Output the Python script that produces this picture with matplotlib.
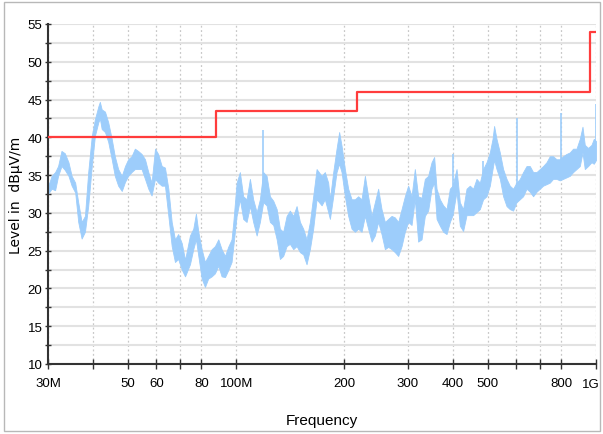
import matplotlib
matplotlib.use("Agg")
import matplotlib.pyplot as plt
from matplotlib.ticker import FixedLocator, NullLocator, MultipleLocator
from matplotlib.patches import Rectangle

freq_mhz = [30.0, 30.7, 31.4, 32.0, 32.7, 33.4, 34.2, 34.9, 35.7, 36.4, 37.2, 38.0,
            38.8, 39.7, 40.5, 41.4, 41.8, 42.3, 43.2, 44.1, 45.1, 46.0, 47.0, 48.1,
            49.1, 50.1, 51.2, 52.3, 53.4, 54.6, 55.8, 57.0, 58.2, 59.5, 60.7, 62.1,
            63.4, 64.8, 66.2, 67.6, 69.0, 70.6, 72.1, 74.4, 76.0, 77.3, 78.5, 80.2,
            81.9, 83.6, 85.5, 87.3, 89.2, 91.1, 93.1, 95.0, 97.1, 98.2, 100.3, 102.4,
            104.6, 106.9, 109.2, 111.5, 114.0, 116.4, 118.9, 121.5, 124.1, 126.8, 129.6,
            132.3, 135.1, 138.1, 141.0, 144.1, 147.2, 150.4, 153.6, 156.9, 160.3, 163.7,
            167.3, 172.8, 176.4, 180.2, 182.2, 186.1, 190.1, 193.3, 196.3, 200.5, 204.8,
            209.3, 213.8, 218.3, 223.1, 227.9, 232.7, 237.9, 242.9, 248.1, 253.5, 259.0,
            264.5, 270.3, 276.1, 282.0, 288.2, 294.3, 300.6, 307.2, 313.7, 320.4, 327.5,
            334.5, 341.6, 349.1, 355.0, 360.5, 368.2, 376.1, 384.3, 392.5, 399.3, 409.7,
            418.4, 427.3, 436.7, 446.0, 455.6, 465.5, 475.5, 485.6, 496.3, 506.9, 515.8,
            521.0, 529.1, 540.4, 551.9, 564.1, 576.0, 588.3, 601.2, 614.1, 627.2, 641.0,
            654.7, 668.7, 683.3, 697.9, 712.7, 728.5, 743.9, 759.8, 776.6, 793.1, 810.0,
            827.8, 845.5, 863.6, 882.6, 901.5, 917.2, 930.8, 950.5, 971.5, 986.0, 1000.0]
level_hi = [33.5, 34.9, 35.4, 36.2, 38.2, 37.9, 36.7, 34.9, 34.0, 31.4, 28.8, 29.6,
            35.4, 40.2, 42.4, 44.1, 44.7, 43.7, 43.4, 42.0, 39.8, 37.5, 35.8, 34.9,
            36.2, 37.1, 37.5, 38.5, 38.2, 37.8, 37.1, 35.4, 34.0, 38.5, 37.8, 36.2,
            36.0, 33.2, 28.8, 26.5, 27.2, 26.0, 23.8, 27.0, 27.9, 29.9, 27.5, 25.2,
            23.5, 24.3, 25.2, 25.6, 26.5, 25.2, 24.3, 25.5, 26.5, 28.8, 34.0, 35.4,
            32.2, 31.8, 34.5, 31.8, 30.1, 31.8, 35.4, 34.9, 32.2, 31.6, 30.5,
            27.9, 27.5, 29.6, 30.3, 29.6, 30.9, 28.8, 27.9, 26.5, 28.8, 32.2,
            35.8, 34.9, 35.4, 34.0, 31.8, 35.4, 38.5, 40.7, 38.9, 35.8, 33.2,
            31.8, 31.8, 32.2, 31.8, 34.9, 32.2, 29.6, 31.4, 33.2, 30.5, 28.8,
            29.2, 29.6, 29.4, 28.8, 30.5, 32.2, 33.6, 32.2, 35.8, 32.2, 32.0,
            34.5, 34.9, 36.7, 37.4, 33.2, 31.8, 31.0, 30.5, 33.2, 33.6, 35.8,
            31.4, 30.5, 33.2, 33.6, 33.2, 34.5, 34.0, 35.8, 36.7, 38.0, 39.8,
            41.5, 39.8, 38.0, 35.8, 34.5, 33.6, 33.2, 34.0, 34.5, 35.4, 36.2,
            36.2, 35.4, 35.4, 35.8, 36.2, 36.7, 37.5, 37.5, 37.1, 37.1, 37.5,
            37.8, 38.0, 38.5, 38.5, 39.8, 41.4, 39.0, 38.6, 39.0, 39.8, 39.5]
level_lo = [32.5, 33.2, 33.0, 34.9, 36.2, 35.7, 34.9, 33.6, 32.7, 28.8, 26.6, 27.5,
            30.9, 36.2, 40.2, 42.0, 42.5, 41.1, 40.7, 39.4, 37.1, 34.9, 33.6, 32.9,
            34.1, 34.9, 35.4, 35.8, 35.8, 35.8, 34.5, 33.2, 32.3, 34.5, 34.0, 33.6,
            33.6, 29.6, 25.6, 23.5, 23.9, 22.5, 21.6, 23.2, 25.2, 26.5, 24.3, 21.3,
            20.2, 21.3, 21.6, 22.0, 23.0, 21.6, 21.5, 22.4, 23.5, 25.6, 29.6, 31.8,
            29.2, 28.8, 30.9, 28.8, 27.0, 28.8, 31.4, 31.0, 28.8, 28.4, 26.5,
            23.9, 24.3, 25.6, 25.9, 25.2, 25.6, 24.8, 24.5, 23.2, 25.2, 27.9,
            31.8, 31.0, 31.8, 30.1, 29.2, 32.2, 35.4, 36.5, 35.4, 32.2, 29.6,
            27.9, 27.5, 27.9, 27.5, 29.6, 27.9, 26.2, 27.0, 28.8, 27.2, 25.2,
            25.5, 25.2, 24.8, 24.3, 25.6, 27.5, 28.8, 28.4, 31.8, 26.2, 26.5,
            29.6, 30.3, 33.2, 34.0, 29.2, 28.3, 27.5, 27.2, 28.8, 29.7, 32.8,
            28.3, 27.6, 29.7, 29.7, 29.7, 30.1, 30.5, 31.8, 32.2, 33.6, 35.8,
            37.0, 35.8, 34.5, 32.2, 30.9, 30.5, 30.3, 31.4, 31.8, 32.2, 33.2,
            32.8, 32.2, 32.8, 33.2, 33.6, 33.8, 34.0, 34.5, 34.5, 34.3, 34.5,
            34.7, 34.9, 35.4, 35.8, 36.2, 38.0, 35.8, 36.2, 36.7, 36.5, 37.0]

# narrow spurs sticking out of the trace (foot and tip)
spike_mhz = [118.9, 399.3, 485.6, 602.0, 797.0, 997.0]
spike_base = [33.0, 31.5, 33.0, 32.5, 35.0, 37.5]
spike_db = [41.0, 37.8, 36.9, 42.6, 43.2, 44.4]

# limit line (step edges)
limit_mhz = [30, 88, 88, 216, 216, 960, 960, 1000]
limit_db = [40, 40, 43.5, 43.5, 46, 46, 54, 54]

tick_mhz = [30, 40, 50, 60, 70, 80, 100, 200, 300, 400, 500, 600, 700, 800, 1000]
tick_labels = ['30M', '', '50', '60', '', '80', '100M', '200', '300', '400', '500',
               '', '', '800', '']

narrow = ['Liberation Sans Narrow', 'Liberation Sans', 'DejaVu Sans']
trace_col = '#9dcdfb'

fig = plt.figure(figsize=(6.03, 4.35), dpi=100)
fig.patches.append(Rectangle((4 / 603, 3 / 435), 596 / 603, 429 / 435,
                             transform=fig.transFigure, fill=False,
                             edgecolor='#b8b8b8', linewidth=1))
ax = fig.add_axes([48 / 603, 1 - 365 / 435, 548 / 603, 340 / 435])

ax.fill_between(freq_mhz, level_lo, level_hi, color=trace_col, linewidth=0.6,
                edgecolor=trace_col, zorder=2)
ax.vlines(spike_mhz, spike_base, spike_db, color=trace_col, linewidth=1.2, zorder=2)
ax.plot(limit_mhz, limit_db, color='#ff3c3c', linewidth=1.6, zorder=3)

ax.set_xscale('log')
ax.set_xlim(30, 1000)
ax.set_ylim(10, 55)
ax.xaxis.set_major_locator(FixedLocator(tick_mhz))
ax.xaxis.set_minor_locator(NullLocator())
ax.set_xticklabels(tick_labels, family=narrow, fontsize=9.5)
ax.yaxis.set_major_locator(MultipleLocator(5))
ax.yaxis.set_minor_locator(MultipleLocator(2.5))
for lab in ax.get_yticklabels():
    lab.set_family(narrow)
    lab.set_fontsize(9.5)

# "1G" label drawn by hand, nudged left so it stays inside the figure
ax.annotate('1G', xy=(1000, 0), xycoords=('data', 'axes fraction'),
            xytext=(-4, -10), textcoords='offset points', ha='center', va='top',
            family=narrow, fontsize=9.5)

ax.grid(axis='y', which='both', color='#e2e2e2', linewidth=1.5, zorder=0)
ax.grid(axis='x', which='major', color='#c8c8c8', linewidth=0.9,
        linestyle=(0, (1.5, 2)), zorder=0)
ax.set_axisbelow(True)

for side in ['top', 'right']:
    ax.spines[side].set_visible(False)
for side in ['left', 'bottom']:
    ax.spines[side].set_color('#333333')
    ax.spines[side].set_linewidth(1.5)
ax.tick_params(axis='x', direction='inout', length=7, width=1, color='#333333', pad=6)
ax.tick_params(axis='y', which='both', direction='inout', length=4, width=1,
               color='#333333', pad=2)

ax.set_xlabel('Frequency', family=narrow, fontsize=11, labelpad=17)
ax.set_ylabel('Level in  dBµV/m', fontsize=10, labelpad=3)

fig.savefig('out.png', dpi=100)
